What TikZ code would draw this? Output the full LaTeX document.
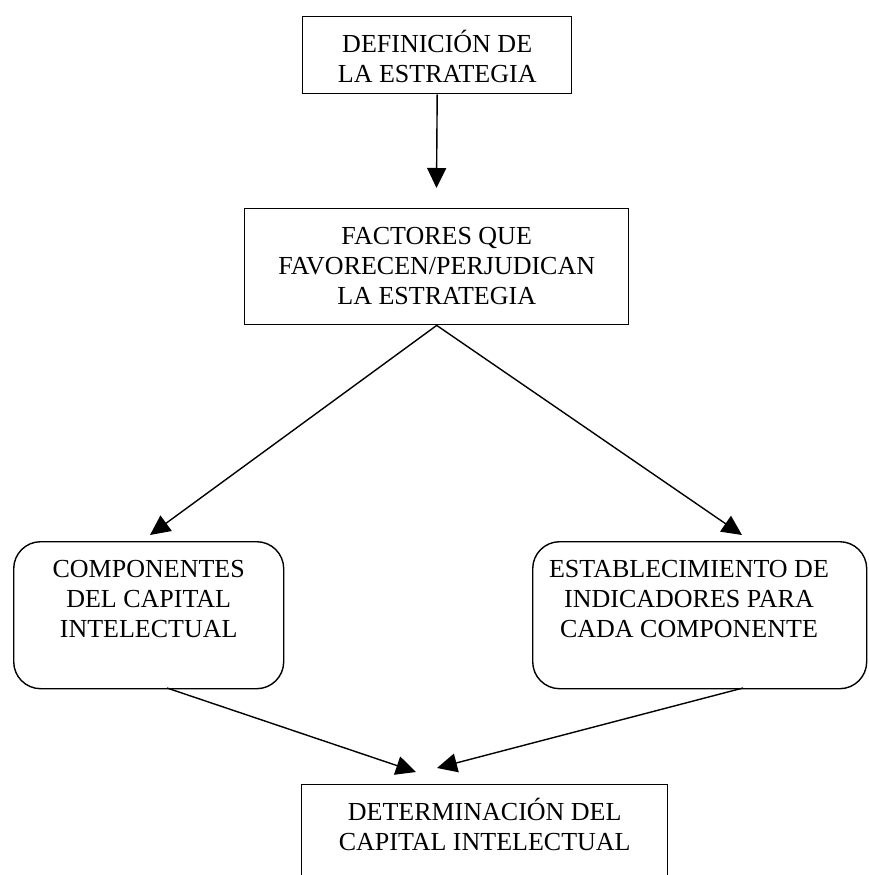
\documentclass[tikz,border=0pt]{standalone}
\usepackage{fontspec}
\setmainfont{Liberation Serif}
\usetikzlibrary{arrows.meta}
\begin{document}
\begin{tikzpicture}[x=1pt,y=-1pt,
  box/.style={draw, line width=1.4pt, inner sep=0pt, anchor=north west},
  rbox/.style={box, rounded corners=27pt},
  lbl/.style={font=\fontsize{26}{30}\selectfont, align=center, inner sep=0pt, anchor=north},
  arr/.style={line width=1.4pt, -{Triangle[length=20pt,width=19pt]}}]
\useasboundingbox (0,0) rectangle (869,875);
\clip (0,0) rectangle (869,875);
% boxes
\node[box, minimum width=269pt, minimum height=77pt] (b1) at (302,16) {};
\node[box, minimum width=384pt, minimum height=116pt] (b2) at (244,208) {};
\node[rbox, minimum width=270pt, minimum height=147pt] (b3) at (13,541) {};
\node[rbox, minimum width=334pt, minimum height=147pt] (b4) at (532,541) {};
\node[box, minimum width=366pt, minimum height=130pt] (b5) at (301,784) {};
% texts
\node[lbl] (t1) at (b1.north) {\rule{0pt}{36pt}DEFINICIÓN DE\\LA ESTRATEGIA};
\node[lbl] (t2) at (b2.north) {\rule{0pt}{36pt}FACTORES QUE\\FAVORECEN/PERJUDICAN\\LA ESTRATEGIA};
\node[lbl] (t3) at (b3.north) {\rule{0pt}{36pt}COMPONENTES\\DEL CAPITAL\\INTELECTUAL};
\node[lbl] (t4) at (689,541) {\rule{0pt}{36pt}ESTABLECIMIENTO DE\\INDICADORES PARA\\CADA COMPONENTE};
\node[lbl] (t5) at (b5.north) {\rule{0pt}{36pt}DETERMINACIÓN DEL\\CAPITAL INTELECTUAL};
% connector end points
\coordinate (p1) at (436.5,188);
\coordinate (p2) at (150,535);
\coordinate (p3) at (742,535);
\coordinate (s3) at (167,688);
\coordinate (s4) at (743,688);
\coordinate (p4) at (416,772);
\coordinate (p5) at (437,768);
% connectors
\draw[arr] (b1.south) -- (p1);
\draw[arr] (b2.south) -- (p2);
\draw[arr] (b2.south) -- (p3);
\draw[arr] (s3) -- (p4);
\draw[arr] (s4) -- (p5);
\end{tikzpicture}
\end{document}
